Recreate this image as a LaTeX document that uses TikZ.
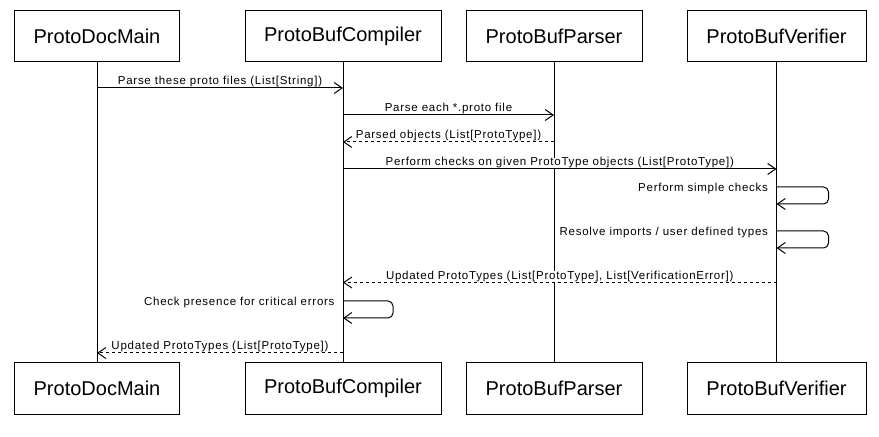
\documentclass[tikz,border=0pt]{standalone}
\usepackage{fontspec}
\setmainfont{Liberation Sans}
\newfontfamily\labelfont[LetterSpace=6.5]{Liberation Sans}
\usetikzlibrary{arrows.meta}

\begin{document}
\begin{tikzpicture}[x=1bp,y=-1bp,line width=1bp,
    actor/.style={draw,fill=white,minimum height=51bp,inner sep=0pt,font=\fontsize{20bp}{24bp}\selectfont},
    msg/.style={-{Straight Barb[length=8bp,width=11bp]}},
    reply/.style={msg,dash pattern=on 3bp off 3bp},
    msglabel/.style={anchor=base,yshift=3bp,fill=white,inner xsep=1bp,inner ysep=0pt,font=\labelfont\fontsize{11.5bp}{14bp}\selectfont},
    looplabel/.style={anchor=base east,xshift=-8bp,yshift=-5bp,inner sep=0pt,font=\labelfont\fontsize{11.5bp}{14bp}\selectfont}]
    \useasboundingbox (0,0) rectangle (879,437);
    \foreach \n/\x/\w/\t in {main/97/164/ProtoDocMain,compiler/343/196/ProtoBufCompiler,
                             parser/554/176/ProtoBufParser,verifier/776.5/179/ProtoBufVerifier} {%
        % one box at each end of a lifeline
        \node[actor,minimum width=\w bp] (\n-top) at (\x,36.5) {\t};
        \node[actor,minimum width=\w bp] (\n-bot) at (\x,388.5) {\t};
        \draw (\n-top) -- (\n-bot);
    }
    \draw[msg] (main-top |- 0,88) -- node[msglabel]{Parse these proto files (List[String])} (compiler-top |- 0,88);
    \draw[msg] (compiler-top |- 0,115) -- node[msglabel]{Parse each *.proto file} (parser-top |- 0,115);
    \draw[reply] (parser-top |- 0,142) -- node[msglabel]{Parsed objects (List[ProtoType])} (compiler-top |- 0,142);
    \draw[msg] (compiler-top |- 0,169) -- node[msglabel]{Perform checks on given ProtoType objects (List[ProtoType])} (verifier-top |- 0,169);
    \draw[msg,rounded corners=5bp] (verifier-top |- 0,187) node[looplabel]{Perform simple checks}
        -- ++(52,0) -- ++(0,17) -- (verifier-top |- 0,204);
    \draw[msg,rounded corners=5bp] (verifier-top |- 0,231) node[looplabel]{Resolve imports / user defined types}
        -- ++(52,0) -- ++(0,17) -- (verifier-top |- 0,248);
    \draw[reply] (verifier-top |- 0,282.5) -- node[msglabel]{Updated ProtoTypes (List[ProtoType], List[VerificationError])} (compiler-top |- 0,282.5);
    \draw[msg,rounded corners=5bp] (compiler-top |- 0,301) node[looplabel]{Check presence for critical errors}
        -- ++(50,0) -- ++(0,17) -- (compiler-top |- 0,318);
    \draw[reply] (compiler-top |- 0,353) -- node[msglabel]{Updated ProtoTypes (List[ProtoType])} (main-top |- 0,353);
\end{tikzpicture}
\end{document}
